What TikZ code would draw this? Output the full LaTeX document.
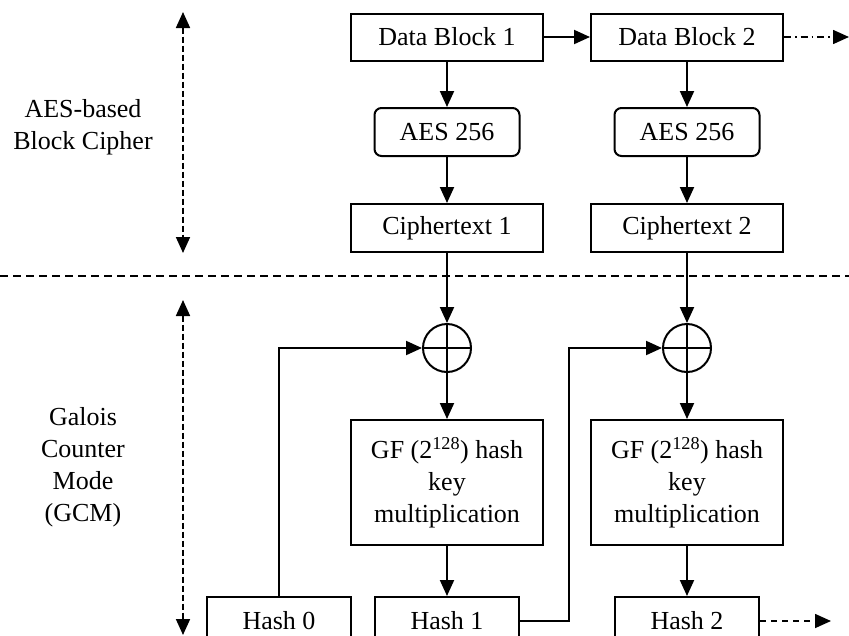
\documentclass[tikz,border=0pt]{standalone}
\usepackage{fontspec}
\setmainfont{Liberation Serif}
\usetikzlibrary{arrows.meta}
\begin{document}
\begin{tikzpicture}[x=1pt,y=-1pt,
  every node/.style={font=\fontsize{26}{32}\selectfont},
  blk/.style={draw, line width=2pt, inner sep=0pt, align=center},
  wide/.style={blk, minimum width=192pt, minimum height=47pt},
  narrow/.style={blk, minimum width=144pt, minimum height=48pt},
  aesbox/.style={blk, rounded corners=7pt, minimum width=145pt, minimum height=48pt},
  xorop/.style={draw, circle, line width=2pt, minimum size=48pt, inner sep=0pt},
  tipend/.style={-{Triangle[length=16pt,width=14pt]}},
  flow/.style={line width=2pt, tipend},
  dashdotflow/.style={line width=1.6pt, tipend, dash pattern=on 7pt off 4pt on 1.5pt off 4pt},
  dashflow/.style={line width=1.6pt, tipend, dash pattern=on 6pt off 5pt},
  span/.style={line width=1.8pt, {Triangle[length=16pt,width=14pt]}-{Triangle[length=16pt,width=14pt]}, dash pattern=on 6pt off 3pt},
  divider/.style={line width=1.6pt, dash pattern=on 8pt off 5pt}
]
\useasboundingbox (0,0) rectangle (849,635);
\clip (0,0) rectangle (849,635);

% cipher stage
\node[wide] (db1) at (447,37) {Data Block 1};
\node[wide] (db2) at (687,37) {Data Block 2};
\node[aesbox] (aes1) at (447,132) {AES 256};
\node[aesbox] (aes2) at (687,132) {AES 256};
\node[wide, minimum height=48pt] (ct1) at (447,228) {Ciphertext 1};
\node[wide, minimum height=48pt] (ct2) at (687,228) {Ciphertext 2};
\coordinate (dbnext) at (849,37);

% GCM stage
\node[xorop] (x1) at (447,348) {};
\node[xorop] (x2) at (687,348) {};
\draw[line width=1.2pt] (x1.north) -- (x1.south) (x1.west) -- (x1.east);
\draw[line width=1.2pt] (x2.north) -- (x2.south) (x2.west) -- (x2.east);
\node[blk, minimum width=192pt, minimum height=125pt] (gf1) at (447,482.5)
  {GF (2\textsuperscript{128}) hash\\key\\multiplication};
\node[blk, minimum width=192pt, minimum height=125pt] (gf2) at (687,482.5)
  {GF (2\textsuperscript{128}) hash\\key\\multiplication};
\node[narrow] (h0) at (279,621) {Hash 0};
\node[narrow] (h1) at (447,621) {Hash 1};
\node[narrow] (h2) at (687,621) {Hash 2};
\coordinate (hnext) at (831,621);

% side labels and extents
\node[align=center] (lab1) at (83,127) {AES-based\\Block Cipher};
\node[align=center] (lab2) at (83,467) {Galois\\Counter\\Mode\\(GCM)};
\coordinate (s1a) at (183,12);
\coordinate (s1b) at (183,253);
\coordinate (s2a) at (183,300);
\coordinate (s2b) at (183,635);
\coordinate (d0) at (0,276);
\coordinate (d1) at (849,276);

% connectors
\draw[flow] (db1) -- (db2);
\draw[dashdotflow] (db2.east) -- (dbnext);
\draw[flow] (db1) -- (aes1);
\draw[flow] (aes1) -- (ct1);
\draw[flow] (db2) -- (aes2);
\draw[flow] (aes2) -- (ct2);
\draw[flow] (ct1) -- (x1);
\draw[flow] (ct2) -- (x2);
\draw[flow] (x1) -- (gf1);
\draw[flow] (x2) -- (gf2);
\draw[flow] (gf1) -- (h1);
\draw[flow] (gf2) -- (h2);
\draw[flow] (h0.north) |- (x1.west);
\draw[flow] (h1.east) -- ++(49,0) |- (x2.west);
\draw[dashflow] (h2.east) -- (hnext);

\draw[span] (s1a) -- (s1b);
\draw[span] (s2a) -- (s2b);
\draw[divider] (d0) -- (d1);
\end{tikzpicture}
\end{document}
